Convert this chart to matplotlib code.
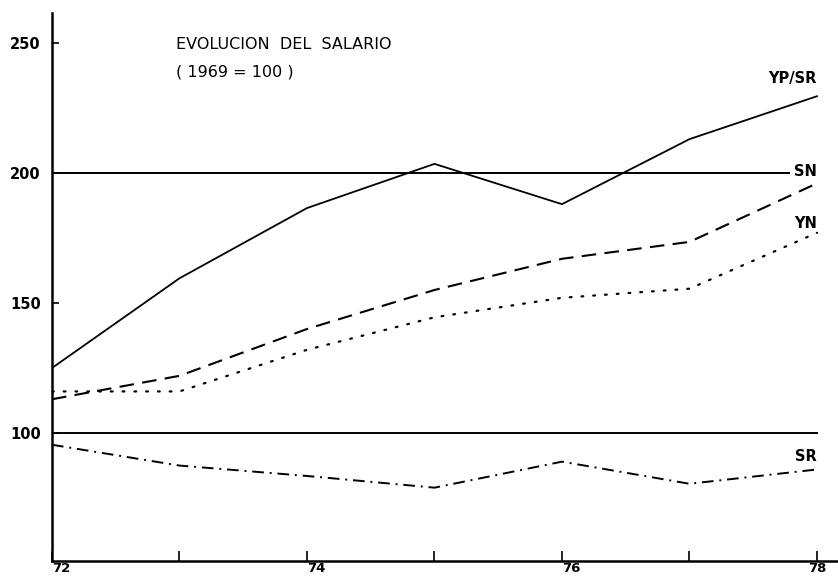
import matplotlib
matplotlib.use("Agg")
import matplotlib.pyplot as plt

# years 1972..1978 (axis shows 72..78)
years = [72, 73, 74, 75, 76, 77, 78]

# index 1969 = 100
yp_sr = [125, 159.5, 186.5, 203.5, 188, 213, 229.5]
sn = [113, 122, 140, 155, 167, 173.5, 196]
yn = [116, 116, 132, 144.5, 152, 155.5, 177]
sr = [95.5, 87.5, 83.5, 79, 89, 80.5, 86]

ref_lines = [200, 100]
ytick_vals = [100, 150, 200, 250]
xtick_labels = ["72", "", "74", "", "76", "", "78"]

fig = plt.figure(figsize=(8.38, 5.81), dpi=100)
ax = fig.add_axes([0.062, 0.0344, 0.938, 0.9432])

ax.plot(years, yp_sr, color="black", lw=1.3)
ax.plot(years, sn, color="black", lw=1.5, dashes=(7, 4))
ax.plot(years, yn, color="black", lw=1.6, dashes=(0.8, 4.5), dash_capstyle="round")
ax.plot(years, sr, color="black", lw=1.4, dashes=(6, 3, 1, 3))

ax.plot([72, 77.78], [ref_lines[0]] * 2, color="black", lw=1.4)
ax.plot([72, 78], [ref_lines[1]] * 2, color="black", lw=1.4)

ax.set_xlim(72, 78.165)
ax.set_ylim(50.8, 261.5)

ax.set_xticks(years)
ax.set_xticklabels(xtick_labels, fontsize=9.5, fontweight="bold")
for t in ax.get_xticklabels()[:-1]:
    t.set_horizontalalignment("left")
ax.set_yticks(ytick_vals)
ax.set_yticklabels([str(v) for v in ytick_vals], fontsize=10.5, fontweight="bold")
ax.tick_params(axis="x", direction="in", length=7, width=1.2, pad=1)
ax.tick_params(axis="y", direction="in", length=5, width=1.2, pad=8)

for side in ["top", "right"]:
    ax.spines[side].set_visible(False)
ax.spines["left"].set_linewidth(1.8)
ax.spines["bottom"].set_linewidth(1.8)

ax.text(72.97, 249.5, "EVOLUCION  DEL  SALARIO", fontsize=11.5, ha="left", va="center")
ax.text(72.97, 238.7, "( 1969 = 100 )", fontsize=11.5, ha="left", va="center")

lab = dict(fontsize=10.5, fontweight="bold", ha="right", va="center")
ax.text(78.0, 236.5, "YP/SR", **lab)
ax.text(78.0, 200.5, "SN", **lab)
ax.text(78.0, 180.5, "YN", **lab)
ax.text(78.0, 91, "SR", **lab)

fig.savefig("out.png", dpi=100)
